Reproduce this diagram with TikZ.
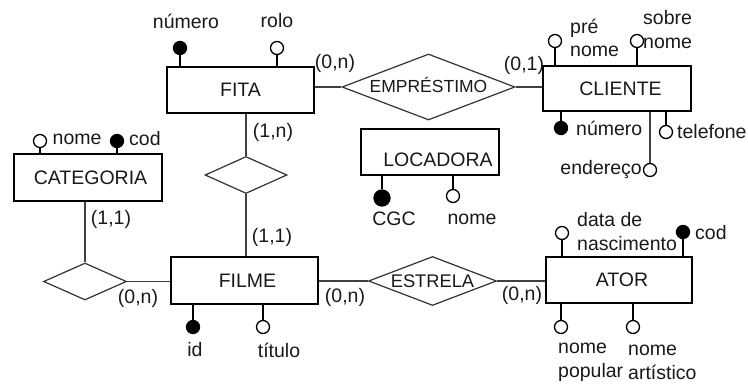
\documentclass[tikz,border=0pt]{standalone}
\usepackage{fontspec}
\setmainfont{Liberation Sans}
\usetikzlibrary{shapes.geometric}
\begin{document}
\begin{tikzpicture}[x=1pt,y=-1pt,
  every node/.style={font=\fontsize{19.5}{23.5}\selectfont, inner sep=0pt, text=black!90},
  entity/.style={draw=black, line width=2pt, rectangle, fill=white},
  rel/.style={draw=black!80, line width=1.2pt, diamond, fill=white},
  hattr/.style={draw=black, line width=1.3pt, circle, minimum size=13pt, fill=white},
  fattr/.style={draw=black, line width=1.3pt, circle, minimum size=13pt, fill=black},
  aline/.style={line width=1.6pt, black},
  rline/.style={line width=1.2pt, black!75},
  card/.style={},
  lab/.style={align=left}]
\useasboundingbox (0,0) rectangle (748,385);
% entities
\node[entity, minimum width=147pt, minimum height=46pt] (fita) at (240.5,90) {FITA};
\node[entity, minimum width=148pt, minimum height=45pt] (cliente) at (617,88.5) {\hspace{7pt}CLIENTE};
\node[entity, minimum width=148pt, minimum height=47pt] (categoria) at (88,178) {\hspace{5pt}CATEGORIA};
\node[entity, minimum width=138pt, minimum height=46pt, label={[yshift=-8pt,xshift=8pt]center:LOCADORA}] (locadora) at (430,152) {};
\node[entity, minimum width=147pt, minimum height=47pt] (filme) at (244.5,280.5) {\hspace{6pt}FILME};
\node[entity, minimum width=146pt, minimum height=46pt] (ator) at (619,280) {\hspace{6pt}ATOR};
% relationships
\node[rel, minimum width=173pt, minimum height=66pt, label={[yshift=2pt,font=\fontsize{17.5}{20}\selectfont]center:EMPRÉSTIMO}] (emp) at (428.5,87) {};
\node[rel, minimum width=128pt, minimum height=49pt, label={[font=\fontsize{18.3}{20}\selectfont]center:ESTRELA}] (estrela) at (432.5,281) {};
\node[rel, minimum width=82pt, minimum height=37pt] (r1) at (246,175) {};
\node[rel, minimum width=83pt, minimum height=37pt] (r2) at (85,281.5) {};
% relationship connectors
\draw[rline] (fita.east |- emp.west) -- (emp.west);
\draw[rline] (emp.east) -- (emp.east -| cliente.west);
\draw[rline] (r1.north) -- (r1.north |- fita.south);
\draw[rline] (r1.south) -- (r1.south |- filme.north);
\draw[rline] (r2.north) -- (r2.north |- categoria.south);
\draw[rline] (r2.east) -- (r2.east -| filme.west);
\draw[rline] (filme.east |- estrela.west) -- (estrela.west);
\draw[rline] (estrela.east) -- (estrela.east -| ator.west);
% cardinalities
\node[card] (c1) at (335,63) {(0,n)};
\node[card] (c2) at (524,65) {(0,1)};
\node[card] (c3) at (273,132) {(1,n)};
\node[card] (c4) at (272,237) {(1,1)};
\node[card] (c5) at (111,219) {(1,1)};
\node[card] (c6) at (138,298) {(0,n)};
\node[card] (c7) at (345,297) {(0,n)};
\node[card] (c8) at (522,295) {(0,n)};
% FITA attributes
\node[fattr] (fnum) at (180,48) {};
\node[hattr] (frolo) at (277,48) {};
\draw[aline] (fnum.south) -- (fnum.south |- fita.north);
\draw[aline] (frolo.south) -- (frolo.south |- fita.north);
\node (lfnum) at (186,21) {número};
\node (lfrolo) at (277,21) {rolo};
% CLIENTE attributes
\node[hattr] (cpre) at (555,41) {};
\node[hattr] (csob) at (637,41) {};
\node[fattr] (cnum) at (561,128) {};
\node[hattr] (ctel) at (666,132) {};
\node[hattr] (cend) at (650,170) {};
\draw[aline] (cpre.south) -- (cpre.south |- cliente.north);
\draw[aline] (csob.south) -- (csob.south |- cliente.north);
\draw[aline] (cnum.north) -- (cnum.north |- cliente.south);
\draw[aline] (ctel.north) -- (ctel.north |- cliente.south);
\draw[rline] (cend.north) -- (cend.north |- cliente.south);
\node[lab, anchor=west] (lcpre) at (570,38) {pré\\nome};
\node[lab, anchor=west] (lcsob) at (643,29.5) {sobre\\nome};
\node[anchor=west] (lcnum) at (576,128) {número};
\node[anchor=west] (lctel) at (677,132) {telefone};
\node[anchor=east] (lcend) at (642,170) {endereço};
% CATEGORIA attributes
\node[hattr] (kn) at (40,141) {};
\node[fattr] (kc) at (117,141) {};
\draw[aline] (kn.south) -- (kn.south |- categoria.north);
\draw[aline] (kc.south) -- (kc.south |- categoria.north);
\node[anchor=west] (lkn) at (52.5,139) {nome};
\node[anchor=west] (lkc) at (129,139) {cod};
% LOCADORA attributes
\node[fattr, minimum size=16pt] (lcgc) at (382,198) {};
\node[hattr] (lnome) at (453,196) {};
\draw[aline] (lcgc.north) -- (lcgc.north |- locadora.south);
\draw[aline] (lnome.north) -- (lnome.north |- locadora.south);
\node (llcgc) at (394,219) {CGC};
\node (llnome) at (472,219) {nome};
% FILME attributes
\node[fattr] (fid) at (193,327) {};
\node[hattr] (ftit) at (263,327) {};
\draw[aline] (fid.north) -- (fid.north |- filme.south);
\draw[aline] (ftit.north) -- (ftit.north |- filme.south);
\node (lfid) at (195,350) {id};
\node (lftit) at (279,350) {título};
% ATOR attributes
\node[hattr] (adn) at (562,233) {};
\node[fattr] (acod) at (683,232) {};
\node[hattr] (anp) at (561,327) {};
\node[hattr] (ana) at (633,327) {};
\draw[aline] (adn.south) -- (adn.south |- ator.north);
\draw[aline] (acod.south) -- (acod.south |- ator.north);
\draw[aline] (anp.north) -- (anp.north |- ator.south);
\draw[aline] (ana.north) -- (ana.north |- ator.south);
\node[lab, anchor=west] (ladn) at (577,231.5) {data de\\nascimento};
\node[anchor=west] (lacod) at (695,233) {cod};
\node[lab, anchor=west] (lanp) at (558,362.5) {nome\\popular};
\node[lab, anchor=west] (lana) at (628,362.5) {nome\\artístico};
\end{tikzpicture}
\end{document}
